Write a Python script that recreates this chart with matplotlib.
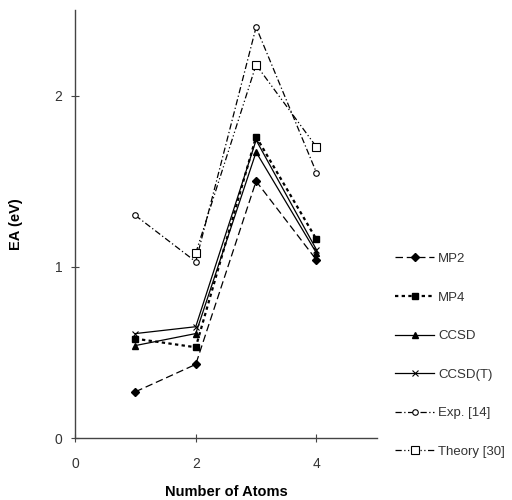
import matplotlib
matplotlib.use("Agg")
import matplotlib.pyplot as plt

# ── data ─────────────────────────────────────────────────────────────────────
atoms = [1, 2, 3, 4]
mp2 = [0.27, 0.43, 1.50, 1.04]
mp4 = [0.58, 0.53, 1.76, 1.16]
ccsd = [0.54, 0.61, 1.67, 1.08]
ccsd_t = [0.61, 0.65, 1.74, 1.10]
exp_atoms = [1, 2, 3, 4]
exp14 = [1.30, 1.03, 2.40, 1.55]
theory_atoms = [2, 3, 4]
theory30 = [1.08, 2.18, 1.70]

plt.rcParams.update({
    "font.family": ["Liberation Sans", "DejaVu Sans"],
    "font.size": 10,
})

GRAY = "#444444"

fig = plt.figure(figsize=(5.12, 5.0), dpi=100)
ax = fig.add_axes([0.1465, 0.124, 0.5895, 0.856])

kw = dict(color="black", linewidth=0.9)
ax.plot(atoms, mp2, linestyle=(0, (6, 3)), marker="D", markersize=4,
        label="MP2", **kw)
ax.plot(atoms, mp4, linestyle=(0, (1.5, 1.5)), marker="s", markersize=5,
        linewidth=1.6, color="black", label="MP4")
ax.plot(atoms, ccsd, linestyle="-", marker="^", markersize=5,
        label="CCSD", **kw)
ax.plot(atoms, ccsd_t, linestyle="-", marker="x", markersize=5,
        markeredgewidth=0.8, label="CCSD(T)", **kw)
ax.plot(exp_atoms, exp14, linestyle=(0, (5, 2, 1, 2)), marker="o",
        markersize=4, markerfacecolor="white", markeredgewidth=0.8,
        label="Exp. [14]", **kw)
ax.plot(theory_atoms, theory30, linestyle=(0, (5, 2, 1, 2, 1, 2)), marker="s",
        markersize=6, markerfacecolor="white", markeredgewidth=0.8,
        label="Theory [30]", **kw)

ax.set_xlim(0, 5)
ax.set_ylim(0, 2.5)
ax.set_xticks([0, 2, 4])
ax.set_yticks([0, 1, 2])
ax.tick_params(direction="inout", length=6, width=0.8, colors=GRAY,
               labelsize=10, labelcolor="#333333", pad=6)
ax.tick_params(axis="x", pad=10.5)
for s in ("top", "right"):
    ax.spines[s].set_visible(False)
for s in ("left", "bottom"):
    ax.spines[s].set_color(GRAY)
    ax.spines[s].set_linewidth(1.0)

ax.set_xlabel("Number of Atoms", fontweight="bold", fontsize=10.5, labelpad=10)
ax.set_ylabel("EA (eV)", fontweight="bold", fontsize=10.5, labelpad=23)

leg = ax.legend(loc="center left", bbox_to_anchor=(1.02, 0.193), frameon=False,
                handlelength=3.0, labelspacing=2.0, handletextpad=0.3,
                fontsize=9.5)
for t in leg.get_texts():
    t.set_color("#333333")

fig.savefig("out.png", dpi=100)
